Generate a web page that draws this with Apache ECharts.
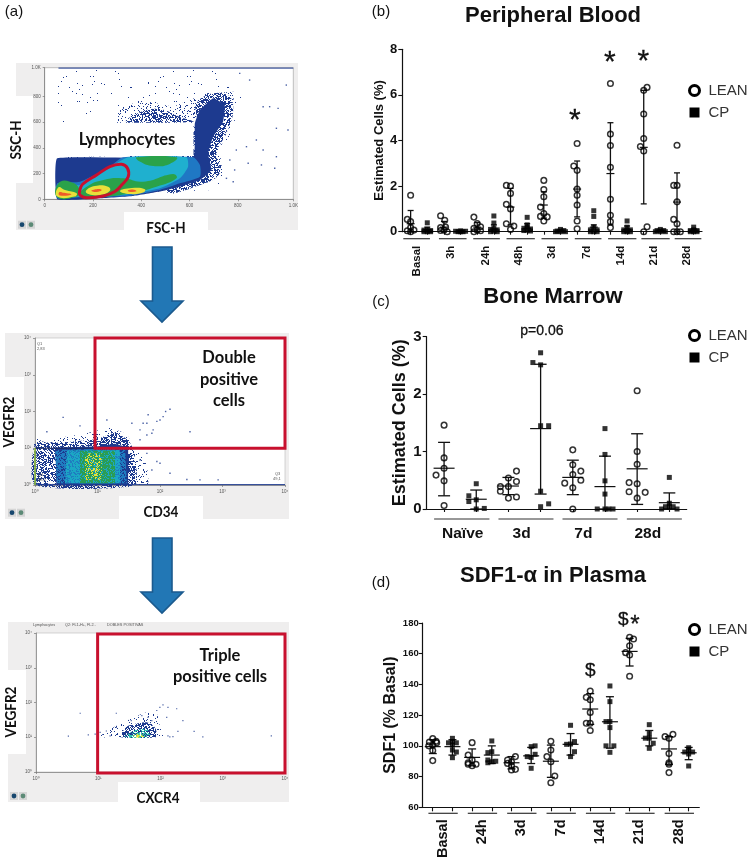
<!DOCTYPE html>
<html><head><meta charset="utf-8">
<style>html,body{margin:0;padding:0;background:#fff}#c{width:751px;height:865px}</style>
<script src="https://cdn.jsdelivr.net/npm/echarts@6/dist/echarts.min.js"></script>
</head><body><div id="c"></div>
<script>
// ---------- (b) Peripheral Blood: [slot, value]
const bloodLabels=['Basal','3h','24h','48h','3d','7d','14d','21d','28d'];
const bloodLabelX=[0.4,2.4,4.5,6.5,8.5,10.6,12.6,14.6,16.6];
const bloodBands=[[-.44,1.16],[1.7,3.36],[3.76,5.36],[5.76,7.46],[7.86,9.46],[9.86,11.46],[11.86,13.56],[13.86,15.56],[15.86,17.46]];
const bloodLean=[[0,1.6],[-.2,.54],[0,.44],[-.2,.04],[0,.18],[.2,.07],[0,0],
[1.8,.7],[2.05,.5],[1.8,.18],[2.1,.2],[1.8,.05],[2,.07],[2.2,0],
[3.8,.64],[4,.36],[3.8,.15],[4.2,.22],[3.8,0],[4,.07],[4.2,.04],
[5.75,2.03],[6,2],[6,1.68],[5.75,1.2],[6,1],[5.75,.35],[6.2,.25],[6,.1],
[8,2.25],[8,1.85],[8,1.53],[7.8,1.08],[7.8,.67],[8,.8],[8.2,.65],[8,.47],
[10,3.87],[9.8,2.88],[10,2.69],[10,1.87],[10,1.6],[10,1.17],[10,.47],[10,.13],
[12,6.5],[12,4.28],[12,3.78],[12,2.83],[12,1.42],[12,.72],[12,.44],[12,.18],
[14.2,6.33],[14,6.2],[14,5.16],[14,4.09],[13.8,3.74],[14,3.54],[14.2,.22],[14,0],
[15.8,2.03],[16,2.03],[16,3.79],[16,1.31],[15.8,.54],[16,.35],[15.8,0],[16,0],[16.2,0]];
const bloodCP=[[1,.39],[.8,.07],[1,.1],[1.2,.05],[.8,0],[1,0],[1.2,0],
[2.7,.02],[2.85,0],[3,.04],[3.15,0],[3.3,.02],[3,0],
[5,.69],[5,.38],[4.8,.1],[5,.15],[5.2,.08],[4.8,0],[5.2,0],[5,.02],
[7,.63],[7,.3],[6.8,.15],[7,.2],[7.2,.12],[6.8,.05],[7,.08],[7.2,.03],
[9,.1],[8.8,.03],[9.2,.05],[9,0],[8.7,0],[9.3,0],
[11,.92],[11,.67],[11,.2],[10.8,.08],[11.2,.08],[10.8,0],[11,0],[11.2,0],
[13,.47],[13,.2],[12.8,.08],[13.2,.08],[13,.05],[12.8,0],[13.2,0],[13,0],
[15,.1],[14.8,.05],[15.2,.05],[15,0],[14.7,0],[15.3,0],
[17,.2],[16.8,.05],[17.2,.05],[17,.08],[16.8,0],[17.2,0],[17,0]];
// [slot, low, mean, high]
const bloodLeanStats=[[0,0,.35,.93],[2,0,.2,.45],[4,0,.2,.4],[6,.3,1.08,1.9],[8,.6,1.17,1.75],[10,.65,1.87,3.1],[12,.3,2.55,4.78],[14,1.22,3.7,6.2],[16,0,1.3,2.58]];
const bloodCPStats=[[1,0,.1,.2],[3,0,.02,.04],[5,0,.12,.3],[7,0,.15,.35],[9,0,.04,.1],[11,0,.2,.3],[13,0,.1,.25],[15,0,.05,.1],[17,0,.05,.12]];
const bloodNotes=[[9.86,5.12,'*'],[11.96,7.68,'*'],[13.98,7.72,'*']];

// ---------- (c) Bone Marrow
const marrowLabels=['Naïve','3d','7d','28d'];
const marrowLabelX=[.58,2.41,4.33,6.33];
const marrowBands=[[-.31,1.41],[1.69,3.4],[3.68,5.39],[5.68,7.39]];
const marrowLean=[[0,1.46],[0,.89],[0,.71],[-.25,.59],[0,.49],[0,.06],
[2.25,.66],[1.75,.39],[2.25,.48],[2,.39],[2,.54],[1.75,.31],[2,.19],[2.25,.21],
[4,1.03],[4,.77],[4.25,.66],[4,.6],[4.25,.5],[3.75,.45],[4,.37],[4,0],
[6,2.06],[6,1],[6,.78],[5.75,.46],[6,.44],[5.75,.3],[6.25,.29],[6,.19]];
const marrowCP=[[1,.44],[.77,.23],[1,.16],[.77,.13],[1,0],[1.25,.01],
[3,2.72],[2.76,2.55],[3,2.51],[3,1.45],[3.25,1.45],[3,.31],[3.25,.09],[3,.04],
[5,1.4],[5,.95],[5,.49],[5,.26],[4.76,0],[5,0],[5.12,0],[5.25,0],
[7,.55],[7,.1],[6.76,0],[6.88,.04],[7,.04],[7.12,.04],[7.24,0]];
const marrowLeanStats=[[0,.23,.71,1.16],[2,.25,.4,.55],[4,.25,.55,.85],[6,.08,.7,1.31]];
const marrowCPStats=[[1,0,.17,.33],[3,.26,1.4,2.52],[5,0,.39,.92],[7,0,.11,.28]];
const marrowNotes=[[3.04,3.09,'p=0.06']];

// ---------- (d) SDF1
const sdfLabels=['Basal','24h','3d','7d','14d','21d','28d'];
const sdfLabelX=[.5,2.5,4.5,6.5,8.5,10.5,12.5];
const sdfBands=[[-.22,1.27],[1.78,3.27],[3.78,5.27],[5.78,7.27],[7.78,9.27],[9.78,11.27],[11.78,13.27]];
const sdfLean=[[0,104.7],[.2,102],[-.2,100],[0,100.6],[0,97],[0,90.4],[.17,103],[-.17,102.5],
[2,102.1],[1.8,94],[2,90.8],[1.8,89],[2.2,88],[2,87.1],[1.8,88],
[4.2,93],[3.8,90.8],[4,89.7],[3.8,88.6],[4,87.1],[4.2,84.7],[4,84.3],
[6,103],[6,97.3],[5.8,93],[6,89.7],[6.2,80.4],[6,76],
[8,135.7],[7.8,131.6],[8,130],[8,121.8],[8,114.7],[8,110],[7.8,114.7],
[10,170.7],[10.2,169.6],[10,165.2],[9.8,160.7],[10,159.2],[10,145.3],
[12.2,107.5],[11.8,106],[12,105],[12,95],[12,89],[12,88],[12,82.6]];
const sdfCP=[[1,104.9],[1.2,102],[.8,102],[1,102.7],[1,100.6],[1.2,96],[1,92.3],[1,97.3],
[3,103.2],[2.8,95.6],[3,96.2],[2.8,90.8],[3,89.7],[3.2,90],[2.8,89],
[5.2,100],[5,99.5],[5.2,94.5],[4.8,93],[5,92.5],[5,85.4],
[7,113.4],[7.2,102.8],[7,101.2],[6.8,101],[7.2,96.2],[7,93],
[9,139],[9,128.8],[9,115.8],[8.8,115.8],[9,111.9],[9.2,100],[8.8,100],[9,95.8],
[11,113.8],[11,108],[10.8,105],[11,105],[11.2,101.7],[11,98.4],
[13,98.8],[12.8,96],[13,97],[13.2,96],[13,94.7],[13,86.9]];
const sdfLeanStats=[[0,95,99.5,104],[2,87,92.5,98],[4,85,89,93],[6,79.5,90,100.5],[8,114,124,134],[10,152,161.5,170],[12,88,98,106]];
const sdfCPStats=[[1,94,99.5,104],[3,88.5,94,100],[5,88.5,93.5,99],[7,94,101,108],[9,98.5,115.7,132],[11,100,105,110],[13,91,95.5,99]];
const sdfNotes=[[8,148.8,'$'],[9.68,182,'$']];
const sdfStars=[[10.27,182,'*']];

// ---------- (a) flow cytometry plots, density outlines and outliers in axis units
const sizeSparse=[[52,1005],[780,1005],[822,823],[780,565],[725,124],[698,73],[52,21]];
const sizeMedium=[[284,603],[312,694],[394,772],[532,720],[670,824],[787,837],[767,590],[725,383],[739,176],[643,111],[477,60],[52,0],[52,331],[284,331]];
const sizeFringe=[[629,746],[698,824],[767,798],[780,668],[753,513],[712,357],[725,202],[643,111],[505,60],[587,383],[629,616]];
const sizeCrest=[[340,603],[400,680],[480,700],[560,640],[615,603]];
const sizeDark=[[622,590],[643,694],[698,785],[746,733],[739,603],[698,487],[677,357],[691,228],[643,150],[560,98],[477,60],[367,26],[229,8],[52,0],[52,319],[615,326]];
const sizeBlue=[[325,326],[615,326],[643,267],[643,176],[560,124],[477,73],[339,26],[146,16],[52,8],[52,124],[146,137],[270,254]];
const sizeCyan=[[346,326],[587,326],[594,254],[560,163],[477,85],[325,34],[146,21],[52,21],[52,111],[146,111],[256,228]];
const sizeGreen=[[[381,326],[546,326],[518,275],[450,259],[394,293]],
[[146,34],[174,98],[243,150],[325,163],[408,137],[532,197],[546,163],[463,98],[339,41],[229,21]],
[[52,16],[57,124],[105,137],[146,73],[132,21]]];
const sizeYellow=[[[171,67],[208,104],[263,98],[270,67],[229,34],[181,41]],
[[312,65],[361,88],[415,78],[408,52],[353,41]],
[[52,21],[57,93],[84,73],[132,47],[125,21]]];
const sizeHot=[[[195,70],[228,80],[236,70],[215,57],[195,62]],
[[345,70],[370,75],[380,62],[350,58]],
[[60,55],[80,50],[110,38],[62,30]]];
const sizeEdge=[[57,1020],[1030,1020]];
const sizeGate=[[146,73],[157,117],[215,189],[270,254],[319,272],[343,241],[346,176],[319,111],[291,60],[243,26],[174,13],[146,34]];
const sizeOutliers=[[787,228],[836,409],[905,383],[960,331],[960,552],[967,707],[932,720],[849,927],[1001,888],[953,241],[898,267],[753,163],[781,137],[767,306],[794,383],[843,280],[877,461],[905,720],[808,979],[1008,539]];

const cd34Medium=[[0,1.32],[.13,1.18],[.51,1.32],[.83,1.41],[1.2,1.55],[1.47,1.36],[1.57,1.05],[1.71,.86],[1.79,.5],[1.79,0],[0,0]];
const cd34Dense=[[0,1.1],[.4,1.15],[.99,1.25],[1.28,1.42],[1.5,1.2],[1.58,.9],[1.6,0],[0,0]];
const cd34Dark=[[.3,1.02],[.99,1.05],[1.28,1.12],[1.49,1.02],[1.49,0],[.3,0]];
const cd34Gap=[[.02,1],[.34,1],[.34,.03],[.02,.03]];
const cd34Blue=[[.32,.95],[1.44,1],[1.47,.05],[.35,.05]];
const cd34Cyan=[[.51,.94],[1.36,.95],[1.36,.05],[.48,.05]];
const cd34Green=[[.72,.93],[1.28,.93],[1.28,.05],[.72,.05]];
const cd34Yellow=[[.8,.86],[1.07,.86],[1.07,.14],[.8,.14]];
const cd34Baseline=[[0,1],[.96,1]];
const cd34Floor=[[0,0.01],[4,0.01]];
const cd34Strip=[[0,0],[0,1]];
const cd34Gate=[[.96,1],[4,1],[4,4],[.96,4]];
const cd34Outliers=[[.45,1.84],[.19,1.45],[2.16,2.06],[2.09,2],[2.05,1.86],[1.95,1.73],[1.79,1.68],[1.81,1.91],[1.73,1.68],[2.48,1.45],[2,1.77],[1.89,1.5],[1.68,1.5],[1.79,1.36],[2.16,.32],[2,.59],[1.87,.41],[2.43,.15],[2.64,.14],[2.93,.14],[1.68,.68],[1.79,.86],[1.55,1.68],[1.68,1.23],[1.95,.64],[.72,1.61],[1.15,1.77],[1.87,1.41]];

const cxcrMedium=[[1.03,1.01],[1.24,1.28],[1.51,1.52],[1.78,1.72],[1.94,1.67],[1.99,1.33],[2.04,1.01]];
const cxcrDark=[[1.35,1.01],[1.48,1.33],[1.78,1.43],[1.91,1.28],[1.94,1.01]];
const cxcrCyan=[[1.43,1.01],[1.56,1.18],[1.78,1.23],[1.83,1.01]];
const cxcrYellow=[[1.53,1.01],[1.67,1.11],[1.75,1.01]];
const cxcrGate=[[.99,-.03],[4,-.03],[4,3.97],[.99,3.97]];
const cxcrOutliers=[[.71,1.69],[.52,1.03],[.84,1.07],[.95,1.09],[1.03,1.14],[1.29,1.69],[2.04,1.93],[2.12,1.86],[2.26,1.82],[2.36,1.48],[2.54,1.17],[2.68,1.01],[2.28,1.17],[3.78,1.04],[2.2,1.02],[2.12,1.04],[1.13,1.18],[1.19,1.04],[2.1,1.57],[1.29,1.28],[1.99,1.86],[1.94,1.77],[1.8,1.57],[1.7,1.62],[1.53,1.48],[2.15,1.01],[1.86,1.48]];

// ---------- helpers
const SANS='"Liberation Sans", Arial, sans-serif', HUM='Lato, "Open Sans", sans-serif';
const RED='#c8102e', NAVY='#1d3a8f';
// fixed stipple texture standing in for the dotted density of the flow plots (a fill, not data)
function stipple(color,size,density,bg){
  const c=document.createElement('canvas');c.width=c.height=size;const g=c.getContext('2d');
  if(bg){g.fillStyle=bg;g.fillRect(0,0,size,size);}
  g.fillStyle=color;
  for(let x=0;x<size;x++)for(let y=0;y<size;y++){
    let h=Math.imul(x+1,374761393)+Math.imul(y+1,668265263)|0;
    h=Math.imul(h^(h>>>13),1274126177);h=h^(h>>>16);
    if(((h>>>0)%1000)/1000<density)g.fillRect(x,y,1,1);
  }
  return {image:c,repeat:'repeat'};
}
const texSparse=stipple(NAVY,97,.012), texMedium=stipple(NAVY,83,.13), texDense=stipple(NAVY,79,.5);
const texLeft=stipple(NAVY,71,.5,'#ffffff'), texBlue=stipple(NAVY,61,.3,'#1f7cc0'), texCyan=stipple('#1f7cc0',53,.35,'#1ba7c4');
const texGreen=stipple('#1ba7c4',47,.3,'#2a9d55'), texYellow=stipple('#e6e23a',41,.3);
const texTeal=stipple('#2fc4b0',37,.4), texLime=stipple('#e6e23a',31,.45);
function poly(grid,pts,fill,smooth){
  return {type:'custom',xAxisIndex:grid,yAxisIndex:grid,silent:true,animation:false,clip:false,data:[[pts[0][0],pts[0][1]]],
    renderItem:(p,api)=>({type:'polygon',shape:{points:pts.map(q=>api.coord(q)),smooth:smooth||0},style:{fill:fill,stroke:null}})};
}
function outline(grid,pts,color,width,smooth){
  return {type:'custom',xAxisIndex:grid,yAxisIndex:grid,silent:true,animation:false,clip:false,z:6,data:[[pts[0][0],pts[0][1]]],
    renderItem:(p,api)=>({type:'polygon',shape:{points:pts.map(q=>api.coord(q)),smooth:smooth||0},style:{fill:'none',stroke:color,lineWidth:width,lineJoin:'miter'}})};
}
function seg(grid,pts,color,width){
  return {type:'custom',xAxisIndex:grid,yAxisIndex:grid,silent:true,animation:false,clip:false,data:[[pts[0][0],pts[0][1]]],
    renderItem:(p,api)=>({type:'polyline',shape:{points:pts.map(q=>api.coord(q))},style:{fill:'none',stroke:color,lineWidth:width}})};
}
function dots(grid,data,size){
  return {type:'scatter',xAxisIndex:grid,yAxisIndex:grid,symbol:'rect',symbolSize:size||1.4,silent:true,animation:false,data:data,itemStyle:{color:NAVY}};
}
function points(grid,name,data){
  const lean=name==='LEAN';
  return {type:'scatter',name:name,xAxisIndex:grid,yAxisIndex:grid,data:data,clip:false,silent:true,animation:false,z:5,
    symbol:lean?'circle':'rect',symbolSize:lean?5.6:5,
    itemStyle:lean?{color:'rgba(255,255,255,0)',borderColor:'#000',borderWidth:1.5}:{color:'#000'}};
}
function stats(grid,name,data,cap,mean){
  return {type:'custom',name:name,xAxisIndex:grid,yAxisIndex:grid,data:data,clip:false,silent:true,animation:false,z:4,
    encode:{x:0,y:[1,2,3]},
    renderItem:(p,api)=>{
      const c=v=>api.coord([api.value(0),v]);
      const lo=c(api.value(1)),m=c(api.value(2)),hi=c(api.value(3));
      const ln=(x1,y1,x2,y2,w)=>({type:'line',shape:{x1,y1,x2,y2},style:{stroke:'#111',lineWidth:w}});
      return {type:'group',children:[ln(lo[0],lo[1],hi[0],hi[1],1.3),ln(lo[0]-cap,lo[1],lo[0]+cap,lo[1],1.3),ln(hi[0]-cap,hi[1],hi[0]+cap,hi[1],1.3),ln(m[0]-mean,m[1],m[0]+mean,m[1],1.2)]};
    }};
}
function bands(grid,data,drop,yBase){
  return {type:'custom',xAxisIndex:grid,yAxisIndex:grid,data:data.map(d=>[d[0],d[1],yBase]),clip:false,silent:true,animation:false,
    encode:{x:[0,1],y:2},
    renderItem:(p,api)=>{
      const a=api.coord([api.value(0),yBase]),b=api.coord([api.value(1),yBase]);
      return {type:'line',shape:{x1:a[0],y1:a[1]+drop,x2:b[0],y2:b[1]+drop},style:{stroke:'#333',lineWidth:1.2}};
    }};
}
function notes(grid,data,size,weight,shift,heavy){
  return {type:'scatter',xAxisIndex:grid,yAxisIndex:grid,symbolSize:1,silent:true,animation:false,clip:false,z:7,
    data:data.map(d=>({value:[d[0],d[1]],label:{formatter:d[2]}})),itemStyle:{color:'rgba(0,0,0,0)'},
    label:{show:true,position:'inside',offset:[0,shift],fontFamily:SANS,fontSize:size,fontWeight:weight,color:'#111',opacity:1,textBorderColor:'#111',textBorderWidth:heavy||.3}};
}
function panelAxes(grid,xmin,xmax,ymin,ymax,step,labels,labelX,ticks,f){
  const byPos=new Map(labelX.map((v,i)=>[v,labels[i]]));
  return [{gridIndex:grid,type:'value',min:xmin,max:xmax,
    axisLine:{onZero:false,lineStyle:{color:'#111',width:1.2}},splitLine:{show:false},
    axisTick:{show:true,length:f.tick,customValues:ticks,lineStyle:{color:'#111',width:1.1}},
    axisLabel:{show:true,customValues:labelX,formatter:v=>byPos.get(v)||'',rotate:f.rotate,margin:f.xMargin,fontFamily:SANS,fontWeight:'bold',fontSize:f.xFont,color:'#111',hideOverlap:false}},
   {gridIndex:grid,type:'value',min:ymin,max:ymax,interval:step,name:f.name,nameLocation:'middle',nameGap:f.nameGap,
    nameTextStyle:{fontFamily:SANS,fontWeight:'bold',fontSize:f.nameFont,color:'#111'},
    axisLine:{show:true,onZero:false,lineStyle:{color:'#111',width:1.2}},splitLine:{show:false},
    axisTick:{show:true,length:4,lineStyle:{color:'#111',width:1.1}},
    axisLabel:{margin:f.yMargin,fontFamily:SANS,fontWeight:'bold',fontSize:f.yFont,color:'#111'}}];
}
function flowAxes(grid,xmax,ymax,step,fmt){
  const base={gridIndex:grid,type:'value',min:0,interval:step,splitLine:{show:false},
    axisLine:{onZero:false,lineStyle:{color:'#777',width:.7}},axisTick:{length:2,lineStyle:{color:'#777',width:.7}},
    axisLabel:{formatter:fmt,fontFamily:SANS,fontSize:4.5,color:'#555',margin:4,hideOverlap:false,showMinLabel:true,showMaxLabel:true}};
  return [Object.assign({},base,{max:xmax}),Object.assign({},base,{max:ymax})];
}
const kFmt=v=>v>=1000?(v/1000).toFixed(1)+'K':String(v);
const decFmt=v=>'10'+'⁰¹²³⁴'[v];
const slots=n=>Array.from({length:n},(_,i)=>i);

const axesB=panelAxes(3,-.5,17.5,0,8,2,bloodLabels,bloodLabelX,slots(18),{tick:3,rotate:90,xMargin:14,xFont:11.5,name:'Estimated Cells (%)',nameGap:16,nameFont:13,yMargin:5,yFont:13});
const axesC=panelAxes(4,-.54,7.54,0,3,1,marrowLabels,marrowLabelX,slots(8),{tick:3,rotate:0,xMargin:17,xFont:15.5,name:'Estimated Cells (%)',nameGap:18,nameFont:18,yMargin:5,yFont:15});
const axesD=panelAxes(5,-.51,13.54,60,180,20,sdfLabels,sdfLabelX,slots(14),{tick:4,rotate:90,xMargin:12,xFont:14.5,name:'SDF1 (% Basal)',nameGap:22,nameFont:16,yMargin:4,yFont:9.5});
const f1=flowAxes(0,1030,1023,200,kFmt),f2=flowAxes(1,4,4,1,decFmt),f3=flowAxes(2,4,4,1,decFmt);

const series=[
 poly(0,sizeSparse,texSparse),poly(0,sizeMedium,texMedium),poly(0,sizeCrest,texDense,.4),poly(0,sizeFringe,texDense,.4),
 poly(0,sizeDark,NAVY,.1),poly(0,sizeBlue,'#1f78c4',.2),poly(0,sizeCyan,'#1fb0cf',.2),
 ...sizeGreen.map(p=>poly(0,p,'#2aa24a',.5)),...sizeYellow.map(p=>poly(0,p,'#e9df3a',.5)),...sizeHot.map(p=>poly(0,p,'#ee5a2a',.5)),
 seg(0,sizeEdge,NAVY,1),dots(0,sizeOutliers),outline(0,sizeGate,RED,3,.4),
 poly(1,cd34Medium,texMedium,.2),poly(1,cd34Dense,texDense,.2),poly(1,cd34Dark,NAVY),poly(1,cd34Gap,texLeft),poly(1,cd34Blue,texBlue),poly(1,cd34Cyan,texCyan),poly(1,cd34Green,texGreen),poly(1,cd34Yellow,texYellow),
 seg(1,cd34Baseline,'#1a2a60',1),seg(1,cd34Floor,NAVY,1),seg(1,cd34Strip,'#8fbf3a',1.6),dots(1,cd34Outliers),outline(1,cd34Gate,RED,3),
 poly(2,cxcrMedium,texMedium,.2),poly(2,cxcrDark,texDense,.2),poly(2,cxcrCyan,texTeal,.3),poly(2,cxcrYellow,texLime,.3),dots(2,cxcrOutliers,1.2),outline(2,cxcrGate,RED,3),
 bands(3,bloodBands,7,0),stats(3,'LEAN',bloodLeanStats,3,4),stats(3,'CP',bloodCPStats,3,4),points(3,'LEAN',bloodLean),points(3,'CP',bloodCP),notes(3,bloodNotes,30,'normal',6),
 bands(4,marrowBands,10,0),stats(4,'LEAN',marrowLeanStats,6,10.5),stats(4,'CP',marrowCPStats,6,10.5),points(4,'LEAN',marrowLean),points(4,'CP',marrowCP),notes(4,marrowNotes,14,'normal',0),
 bands(5,sdfBands,6,60),stats(5,'LEAN',sdfLeanStats,4,8),stats(5,'CP',sdfCPStats,4,8),points(5,'LEAN',sdfLean),points(5,'CP',sdfCP),notes(5,sdfNotes,19,'normal',0),notes(5,sdfStars,24,'normal',5)
];

const legendOf=top=>({left:683,top:top,orient:'vertical',itemWidth:10,itemHeight:10,itemGap:7,selectedMode:false,
  textStyle:{fontFamily:SANS,fontSize:15,color:'#333',padding:[0,0,0,4]},
  data:[{name:'LEAN',icon:'circle',itemStyle:{color:'#fff',borderColor:'#000',borderWidth:3}},{name:'CP',icon:'rect',itemStyle:{color:'#000',borderWidth:0}}]});
const ttl=(text,x,y,size,weight)=>({text:text,left:x,top:y,textAlign:'center',padding:0,
  textStyle:{fontFamily:SANS,fontSize:size,fontWeight:weight,color:'#111'}});
const tx=(text,x,y,size,extra)=>Object.assign({type:'text',x:x,y:y,z:50,rotation:0,style:{text:text,fontFamily:HUM,fontWeight:'bold',fontSize:size,fill:'#111',textAlign:'center',textVerticalAlign:'middle',align:'center',verticalAlign:'middle'}},extra||{});
const box=(x,y,w,h,fill,z)=>({type:'rect',z:z===undefined?-1:z,shape:{x,y,width:w,height:h},style:{fill:fill}});
const arrow=(top,base,tip)=>({type:'polygon',z:3,shape:{points:[[152.5,top],[172,top],[172,base],[183,base],[162,tip],[141,base],[152.5,base]]},style:{fill:'#2277b5',stroke:'#1b5a8e',lineWidth:1.6}});
const icons=(x,y)=>[box(x-4,y-4,8,8,'#d5d5d5',2),box(x+5,y-4,8,8,'#d5d5d5',2),
  {type:'circle',z:3,shape:{cx:x,cy:y,r:2.4},style:{fill:'#17476e'}},{type:'circle',z:3,shape:{cx:x+9,cy:y,r:2.4},style:{fill:'#5c8a76'}}];
const tiny=(text,x,y,size,fill)=>({type:'text',z:8,x:x,y:y,style:{text:text,fontFamily:SANS,fontSize:size||4,fill:fill||'#555',textAlign:'left',textVerticalAlign:'middle',align:'left',verticalAlign:'middle'}});

const graphic=[
 box(16,63,282,167,'#efeeee'),box(16,96,17,87,'#fff',-1),box(124,212,84,18,'#fff',-1),box(44.7,67.7,248.6,131.6,'#fff',-1),
 box(5,333,284,186,'#efeeee'),box(5,377,19,89,'#fff',-1),box(119,496,84,23,'#fff',-1),box(35,338,250,147,'#fff',-1),
 box(8,622,281,180,'#efeeee'),box(8,670,18,84,'#fff',-1),box(118,782,82,20,'#fff',-1),box(36,633,249,139,'#fff',-1),
 box(62,122.7,131.5,33.3,'#fff',20),
 tx('Lymphocytes',127,140,16.5,{z:21}),
 tx('SSC-H',16,140,15,{rotation:Math.PI/2,scaleX:.9}),tx('FSC-H',166,228,15,{scaleX:.9}),
 tx('VEGFR2',9,422,15,{rotation:Math.PI/2,scaleX:.9}),tx('CD34',161,512,15,{scaleX:.9}),
 tx('Double',229,358,16.5),tx('positive',229,380,16.5),tx('cells',229,401,16.5),
 tx('VEGFR2',11,712,15,{rotation:Math.PI/2,scaleX:.9}),tx('CXCR4',158,798,15,{scaleX:.9}),
 tx('Triple',220,656,16.5),tx('positive cells',220,677,16.5),
 arrow(247,301,322),arrow(538,592,613),
 ...icons(22,224.7),...icons(12,512.7),...icons(14,796),
 tiny('Q1',37,344),tiny('2,83',37,349),tiny('Q3',275,474),tiny('49,1',273,479),tiny('Q4',38,475),tiny('48,5',38,480),
 tiny('Lymphocytes',33,625,3.8),tiny('Q2: FL1-H+, FL2..',65,625,3.8),tiny('DOBLES POSITIVAS',107,625,3.8)
];

const chart=echarts.init(document.getElementById('c'),null,{renderer:'canvas',width:751,height:865});
chart.setOption({
 backgroundColor:'#fff',animation:false,
 title:[ttl('Peripheral Blood',553,5,22,'bold'),ttl('Bone Marrow',553,286,22,'bold'),ttl('SDF1-α in Plasma',553,565,22,'bold'),
  ttl('(a)',14,4,15,'normal'),ttl('(b)',381,4,15,'normal'),ttl('(c)',381,294,15,'normal'),ttl('(d)',381,575,15,'normal')],
 legend:[legendOf(78),legendOf(323),legendOf(617)],
 grid:[{left:44.7,top:67.7,width:248.6,height:131.6,show:true,borderColor:'#999',borderWidth:.6,backgroundColor:'rgba(0,0,0,0)'},
  {left:35,top:338,width:250,height:147,show:true,borderColor:'#bbb',borderWidth:.6,backgroundColor:'rgba(0,0,0,0)'},
  {left:36,top:633,width:249,height:139,show:true,borderColor:'#bbb',borderWidth:.6,backgroundColor:'rgba(0,0,0,0)'},
  {left:402.3,top:49.3,width:299.7,height:182.4},{left:426.7,top:336.7,width:260,height:172.3},{left:422.7,top:623,width:276.6,height:184.3}],
 xAxis:[f1[0],f2[0],f3[0],axesB[0],axesC[0],axesD[0]],
 yAxis:[f1[1],f2[1],f3[1],axesB[1],axesC[1],axesD[1]],
 series:series,graphic:graphic
});
</script></body></html>
